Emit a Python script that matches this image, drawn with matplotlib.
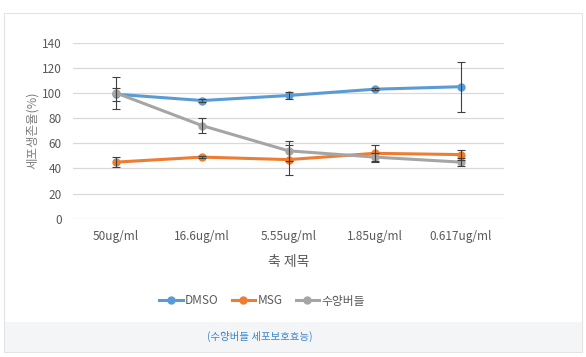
import matplotlib
matplotlib.use('Agg')
import matplotlib.pyplot as plt
import matplotlib.patches as patches
import numpy as np

plt.rcParams['font.family'] = ['Noto Sans CJK KR', 'DejaVu Sans']

categories = ['50ug/ml', '16.6ug/ml', '5.55ug/ml', '1.85ug/ml', '0.617ug/ml']
dmso = [99, 94, 98, 103, 105]
dmso_err = [5, 1, 3, 1, 20]
msg = [45, 49, 47, 52, 51]
msg_err = [4, 1, 12, 7, 4]
subong = [100, 74, 54, 49, 45]
subong_err = [12.5, 6, 8, 3, 3]
series_names = ['DMSO', 'MSG', '수양버들']
colors = ['#5B9BD5', '#ED7D31', '#A5A5A5']

fig = plt.figure(figsize=(5.86, 3.57), dpi=100)

# outer frame + caption band
fig.patches.append(patches.Rectangle((4 / 586, 1 - 352 / 357), 578 / 586, 339 / 357,
                                     transform=fig.transFigure, fill=False,
                                     edgecolor='#e3e3e3', linewidth=0.8))
fig.patches.append(patches.Rectangle((4.5 / 586, 1 - 351.5 / 357), 577 / 586, 30 / 357,
                                     transform=fig.transFigure, facecolor='#f4f5f7',
                                     edgecolor='none'))
fig.text(260 / 586, 1 - 336 / 357, '(수양버들 세포보호효능)', ha='center', va='center',
         fontsize=7.5, color='#3d85c6')

ax = fig.add_axes([73 / 586, 1 - 218.7 / 357, 431 / 586, 176 / 357])
x = np.arange(len(categories))
for vals, errs, name, c in zip([dmso, msg, subong], [dmso_err, msg_err, subong_err],
                               series_names, colors):
    ax.plot(x, vals, color=c, linewidth=2.2, marker='o', markersize=5, label=name, zorder=3)
    ax.errorbar(x, vals, yerr=errs, fmt='none', ecolor='#404040', elinewidth=0.8,
                capsize=3, capthick=0.8, zorder=4)

ax.set_xlim(-0.5, len(categories) - 0.5)
ax.set_ylim(0, 140)
ax.set_yticks(range(0, 141, 20))
ax.set_xticks(x)
ax.set_xticklabels(categories)
ax.grid(axis='y', color='#d9d9d9', linewidth=0.9)
ax.set_axisbelow(True)
for s in ax.spines.values():
    s.set_visible(False)
ax.tick_params(axis='both', length=0, labelsize=8.5, colors='#595959', pad=8)
ax.tick_params(axis='y', pad=8)
ax.set_ylabel('세포생존율(%)', fontsize=9, color='#808080', labelpad=2)
ax.set_xlabel('축 제목', fontsize=10, color='#595959', labelpad=9)

# legend centred at x=262px, y=301px
lx = (262 - 73) / 431
ly = (218.7 - 301) / 176
ax.legend(loc='center', bbox_to_anchor=(lx, ly), ncol=3, frameon=False,
          fontsize=8.5, labelcolor='#595959', handlelength=2.0, columnspacing=1.1,
          handletextpad=0.2)

fig.savefig('out.png', dpi=100)
